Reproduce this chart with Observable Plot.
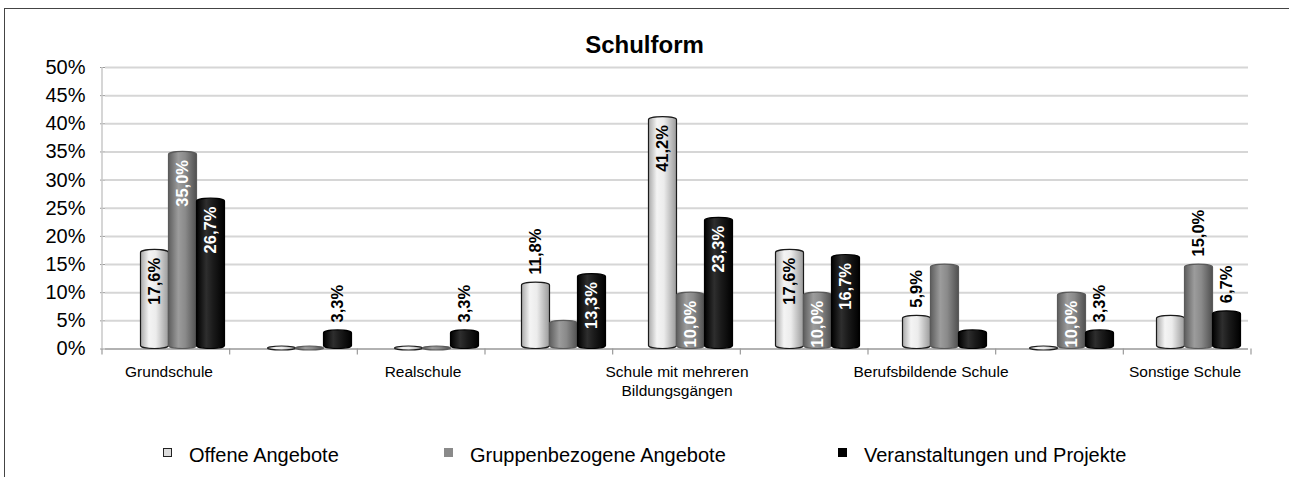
<!DOCTYPE html>
<html><head><meta charset="utf-8">
<script src="https://cdn.jsdelivr.net/npm/d3@7"></script>
<script src="https://cdn.jsdelivr.net/npm/@observablehq/plot@0.6"></script>
<style>
html,body{margin:0;padding:0;background:#fff;overflow:hidden;}
body{width:1289px;height:477px;position:relative;font-family:Arial,"Liberation Sans",sans-serif;}
#frame{position:absolute;left:4px;top:8px;width:1300px;height:480px;border-left:1px solid #444;border-top:1px solid #444;}
#title{position:absolute;left:0;width:1289px;top:33px;text-align:center;font-weight:bold;font-size:24px;line-height:24px;color:#000;}
#chart{position:absolute;left:0;top:0;}
.lg{position:absolute;top:445px;font-size:20px;line-height:20px;white-space:nowrap;color:#000;}
.sw{position:absolute;top:448px;width:9px;height:9px;box-sizing:border-box;}
</style></head>
<body>
<div id="frame"></div>
<div id="title">Schulform</div>
<div id="chart"></div>
<div id="legend"></div>
<script>
// ---- data ----
const categories = ["Grundschule","Hauptschule","Realschule","Gymnasium","Schule mit mehreren Bildungsgängen","Gesamtschule","Berufsbildende Schule","Förderschule","Sonstige Schule"];
const tickLabels = ["Grundschule","","Realschule","","Schule mit mehreren\nBildungsgängen","","Berufsbildende Schule","","Sonstige Schule"];
const series = ["Offene Angebote","Gruppenbezogene Angebote","Veranstaltungen und Projekte"];
const offene  = [17.6, 0,   0,   11.8, 41.2, 17.6, 5.9,  0,    5.9];
const gruppen = [35.0, 0,   0,   5.0,  10.0, 10.0, 15.0, 10.0, 15.0];
const veranst = [26.7, 3.3, 3.3, 13.3, 23.3, 16.7, 3.3,  3.3,  6.7];
// data label placement: "in" = inside bar top, "out" = above bar, "" = none
const offeneLabels  = ["in","","","out","in","in","out","",""];
const gruppenLabels = ["in","","","","in","in","","in","out"];
const veranstLabels = ["in","out","out","in","in","in","","out","out"];
const yTicks = [0,5,10,15,20,25,30,35,40,45,50];

// ---- build table ----
const valuesBySeries = [offene, gruppen, veranst];
const labelsBySeries = [offeneLabels, gruppenLabels, veranstLabels];
const rows = [];
series.forEach((s, si) => categories.forEach((c, ci) => {
  rows.push({category: c, series: s, value: valuesBySeries[si][ci], label: labelsBySeries[si][ci]});
}));

const fillOf = {[series[0]]: "url(#gOff)", [series[1]]: "url(#gGrp)", [series[2]]: "url(#gVer)"};
const strokeOf = {[series[0]]: "#1a1a1a", [series[1]]: "#5a5a5a", [series[2]]: "#000"};
const fmt = v => v.toFixed(1).replace(".", ",") + "%";
const SHIFT = 13.5;
const font = "Arial, 'Liberation Sans', sans-serif";

const chart = Plot.plot({
  width: 1289, height: 400,
  marginLeft: 102, marginRight: 38, marginTop: 67, marginBottom: 51.5,
  style: {fontFamily: font, background: "transparent", overflow: "visible", color: "#000"},
  fx: {domain: categories, padding: 0, label: null},
  x: {domain: series, paddingInner: 0, paddingOuter: 0.764, axis: null},
  y: {domain: [0, 50], axis: null},
  color: {type: "identity"},
  marks: [
    Plot.gridY(yTicks, {stroke: "#d6d6d6", strokeOpacity: 1, strokeWidth: 2}),
    Plot.ruleY([0], {stroke: "#a6a6a6", strokeWidth: 1.5}),
    Plot.axisY(yTicks, {tickSize: 5, stroke: "#9a9a9a", tickFormat: () => "", label: null}),
    Plot.axisY(yTicks, {tickSize: 0, tickPadding: 20, fontSize: 20, tickFormat: d => d + "%", label: null}),
    Plot.axisFx({anchor: "bottom", tickSize: 0, tickPadding: 14, fontSize: 15.5, lineHeight: 1.25, label: null,
      tickFormat: d => tickLabels[categories.indexOf(d)]}),
    Plot.barY(rows.filter(d => d.value === 0 && d.series !== series[2]), {
      fx: "category", x: "series", y1: 0, y2: 0, insetTop: -2.5, insetBottom: -1.5,
      fill: d => fillOf[d.series], stroke: d => strokeOf[d.series], strokeWidth: 1.2, rx: 14, ry: 2, dx: SHIFT}),
    Plot.barY(rows.filter(d => d.value > 0), {
      fx: "category", x: "series", y: "value",
      fill: d => fillOf[d.series], stroke: d => strokeOf[d.series], strokeWidth: 1.2,
      rx: 14, ry: 3, dx: SHIFT}),
    Plot.text(rows.filter(d => d.label === "out"), {
      fx: "category", x: "series", y: "value", text: d => fmt(d.value),
      rotate: -90, textAnchor: "start", dx: SHIFT, dy: -8,
      fontSize: 16.5, fontWeight: "bold", fill: "#000"}),
    Plot.text(rows.filter(d => d.label === "in"), {
      fx: "category", x: "series", y: "value", text: d => fmt(d.value),
      rotate: -90, textAnchor: "end", dx: SHIFT, dy: 8,
      fontSize: 16.5, fontWeight: "bold", fill: d => d.series === series[0] ? "#000" : "#fff"})
  ]
});

// gradients for cylinder shading
const svg = d3.select(chart);
const defs = svg.insert("defs", ":first-child");
function grad(id, stops) {
  const g = defs.append("linearGradient").attr("id", id).attr("x1", "0").attr("x2", "1").attr("y1", "0").attr("y2", "0");
  stops.forEach(([o, c]) => g.append("stop").attr("offset", o).attr("stop-color", c));
}
grad("gOff", [[0, "#a8a8a8"], [0.3, "#f4f4f4"], [0.55, "#ececec"], [1, "#9a9a9a"]]);
grad("gGrp", [[0, "#5e5e5e"], [0.35, "#9c9c9c"], [0.6, "#8a8a8a"], [1, "#505050"]]);
grad("gVer", [[0, "#000"], [0.35, "#2e2e2e"], [0.6, "#1a1a1a"], [1, "#000"]]);

// axis line and category boundary ticks from the library's scales
const fxs = chart.scale("fx"), ys = chart.scale("y");
const y0 = ys.apply(0), y50 = ys.apply(50);
const x0 = fxs.range[0], x1 = fxs.range[1];
const step = (x1 - x0) / fxs.domain.length;
const deco = svg.append("g").attr("stroke", "#9a9a9a").attr("stroke-width", 1.2);
deco.append("line").attr("x1", x0).attr("x2", x0).attr("y1", y0).attr("y2", y50).attr("stroke", "#c8c8c8").attr("stroke-width", 1.5);
d3.range(fxs.domain.length + 1).forEach(i => {
  const x = x0 + i * step;
  deco.append("line").attr("x1", x).attr("x2", x).attr("y1", y0).attr("y2", y0 + 6);
});

document.getElementById("chart").appendChild(chart);

// legend
const legend = document.getElementById("legend");
const swatch = [
  {bg: "#dcdcdc", border: "1.5px solid #222"},
  {bg: "#8a8a8a", border: "none"},
  {bg: "#000", border: "none"}
];
const legendX = [163, 444, 838];
series.forEach((s, i) => {
  const sw = document.createElement("div");
  sw.className = "sw";
  sw.style.left = legendX[i] + "px";
  sw.style.background = swatch[i].bg;
  sw.style.border = swatch[i].border;
  legend.appendChild(sw);
  const t = document.createElement("div");
  t.className = "lg";
  t.style.left = (legendX[i] + 26) + "px";
  t.textContent = s;
  legend.appendChild(t);
});
</script>
</body></html>
